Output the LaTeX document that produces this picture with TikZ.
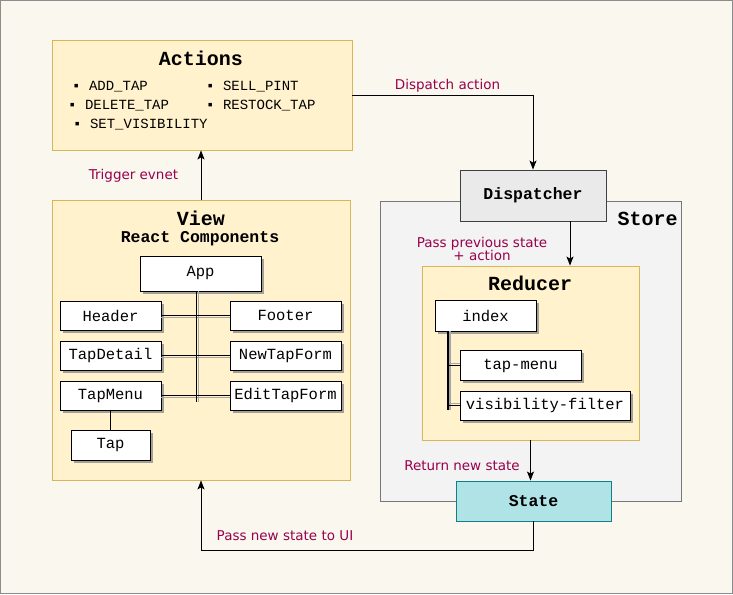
\documentclass[tikz,border=0pt]{standalone}
\usepackage{fontspec}
\setmainfont{DejaVu Sans}
\newfontfamily\monof{Liberation Mono}
\usetikzlibrary{arrows.meta,shadows}
\definecolor{bgc}{HTML}{F9F7EE}
\definecolor{yfill}{HTML}{FFF2CC}
\definecolor{ydraw}{HTML}{D6B656}
\definecolor{sfill}{HTML}{F3F3F3}
\definecolor{sdraw}{HTML}{777777}
\definecolor{dfill}{HTML}{EAEAEA}
\definecolor{stfill}{HTML}{B0E3E6}
\definecolor{stdraw}{HTML}{0E8088}
\definecolor{lbl}{HTML}{99004D}
\tikzset{
  ybox/.style={draw=ydraw, fill=yfill, line width=0.9pt, inner sep=0pt},
  comp/.style={draw=black, fill=white, line width=0.9pt, inner sep=0pt,
    font=\monof\fontsize{15.5}{16}\selectfont,
    drop shadow={shadow xshift=2.5pt, shadow yshift=-2.5pt, fill=black!45, opacity=0.8}},
  ttl/.style={font=\monof\bfseries\fontsize{20}{22}\selectfont, inner sep=0pt},
  subttl/.style={font=\monof\bfseries\fontsize{16.5}{18}\selectfont, inner sep=0pt},
  item/.style={font=\monof\fontsize{14}{15}\selectfont, inner sep=0pt, anchor=west},
  lab/.style={font=\fontsize{13.5}{15}\selectfont, text=lbl, inner sep=0pt},
  arr/.style={draw=black, line width=0.9pt, -{Stealth[length=9pt,width=7pt,inset=2pt]}},
  tree/.style={draw=black, line width=0.9pt},
  treesh/.style={draw=black!35, line width=0.9pt},
}
\begin{document}
\begin{tikzpicture}[x=1pt,y=-1pt]
\path[use as bounding box] (0,0) rectangle (733,594);
\draw[fill=bgc, draw=black!45, line width=1.2pt] (0.6,0.6) rectangle (732.4,593.4);

% Actions
\node[ybox, minimum width=300pt, minimum height=110pt] (Actions) at (202,95) {};
\node[ttl] (actT) at (201,58) {Actions};
\node[item] (i1) at (72,87) {▪ ADD\_TAP};
\node[item] (i2) at (68,106) {▪ DELETE\_TAP};
\node[item] (i3) at (73,125) {▪ SET\_VISIBILITY};
\node[item] (i4) at (206,87) {▪ SELL\_PINT};
\node[item] (i5) at (206,106) {▪ RESTOCK\_TAP};

% View
\node[ybox, minimum width=298pt, minimum height=280pt] (View) at (201,340) {};
\node[ttl] (viewT) at (201,218) {View};
\node[subttl] (viewS) at (200,239) {React Components};
\node[comp, minimum width=121pt, minimum height=35pt] (App) at (200.5,273.5) {App};
\node[comp, minimum width=101pt, minimum height=29pt] (Header) at (110.5,315.5) {Header};
\node[comp, minimum width=111pt, minimum height=29pt] (Footer) at (285.5,315.5) {Footer};
\node[comp, minimum width=101pt, minimum height=29pt] (TapDetail) at (110.5,355.5) {TapDetail};
\node[comp, minimum width=111pt, minimum height=29pt] (NewTapForm) at (285.5,355.5) {NewTapForm};
\node[comp, minimum width=101pt, minimum height=29pt] (TapMenu) at (110.5,395.5) {TapMenu};
\node[comp, minimum width=111pt, minimum height=29pt] (EditTapForm) at (285.5,395.5) {EditTapForm};
\node[comp, minimum width=79pt, minimum height=30pt] (Tap) at (110.5,445) {Tap};
\coordinate (trunk) at (196,402);
\draw[treesh] ([xshift=2pt]App.south -| trunk) -- ([xshift=2pt]trunk);
\draw[treesh] ([yshift=-2pt]Header.east) -- ([yshift=-2pt]Footer.west);
\draw[treesh] ([yshift=-2pt]TapDetail.east) -- ([yshift=-2pt]NewTapForm.west);
\draw[treesh] ([yshift=-2pt]TapMenu.east) -- ([yshift=-2pt]EditTapForm.west);
\draw[tree] (App.south -| trunk) -- (trunk);
\draw[tree] (Header.east) -- (Footer.west);
\draw[tree] (TapDetail.east) -- (NewTapForm.west);
\draw[tree] (TapMenu.east) -- (EditTapForm.west);
\draw[tree] (TapMenu) -- (Tap);

% Store
\node[draw=sdraw, fill=sfill, line width=0.9pt, minimum width=301pt, minimum height=300pt] (Store) at (530.5,351) {};
\node[ttl] (storeT) at (647.5,219) {Store};
\node[draw=black!75, fill=dfill, line width=0.9pt, minimum width=146pt, minimum height=51pt, subttl] (Dispatcher) at (533,195.5) {Dispatcher};

% Reducer
\node[ybox, minimum width=217pt, minimum height=174pt] (Reducer) at (530.5,353) {};
\node[ttl] (redT) at (530,283) {Reducer};
\node[comp, minimum width=101pt, minimum height=31pt] (index) at (485.5,315.5) {index};
\node[comp, minimum width=121pt, minimum height=30pt] (tapmenu) at (520.5,365.5) {tap-menu};
\node[comp, minimum width=170pt, minimum height=29pt] (visf) at (545,405.5) {visibility-filter};
\coordinate (rt) at (448,410);
\draw[treesh, line width=1.2pt] ([xshift=2pt]index.south -| rt) -- ([xshift=2pt]rt);
\draw[treesh] ([yshift=2pt]tapmenu.west -| rt) -- ([yshift=2pt]tapmenu.west);
\draw[treesh] ([yshift=2pt]visf.west -| rt) -- ([yshift=2pt]visf.west);
\draw[tree, line width=1.2pt] (index.south -| rt) -- (rt);
\draw[tree] (tapmenu.west -| rt) -- (tapmenu.west);
\draw[tree] (visf.west -| rt) -- (visf.west);

% State
\node[draw=stdraw, fill=stfill, line width=0.9pt, minimum width=155pt, minimum height=40pt, subttl] (State) at (533.5,501) {State};

% Connectors
\draw[arr] (Actions.east) -| (Dispatcher.north);
\node[lab] (l1) at (447.5,86) {Dispatch action};
\coordinate (dr) at (570,0);
\draw[arr] (Dispatcher.south -| dr) -- (Reducer.north -| dr);
\node[lab, align=center] (l2) at (482,249) {Pass previous state\\[-1.5pt]+ action};
\draw[arr] (Reducer.south) -- (Reducer.south |- State.north);
\node[lab] (l3) at (462,466) {Return new state};
\coordinate (ret) at (0,550);
\draw[arr] (State.south) |- (View.south |- ret) -- (View.south);
\node[lab] (l4) at (285,536) {Pass new state to UI};
\draw[arr] (View.north) -- (Actions.south -| View.north);
\node[lab] (l5) at (133.5,176) {Trigger evnet};
\end{tikzpicture}
\end{document}
